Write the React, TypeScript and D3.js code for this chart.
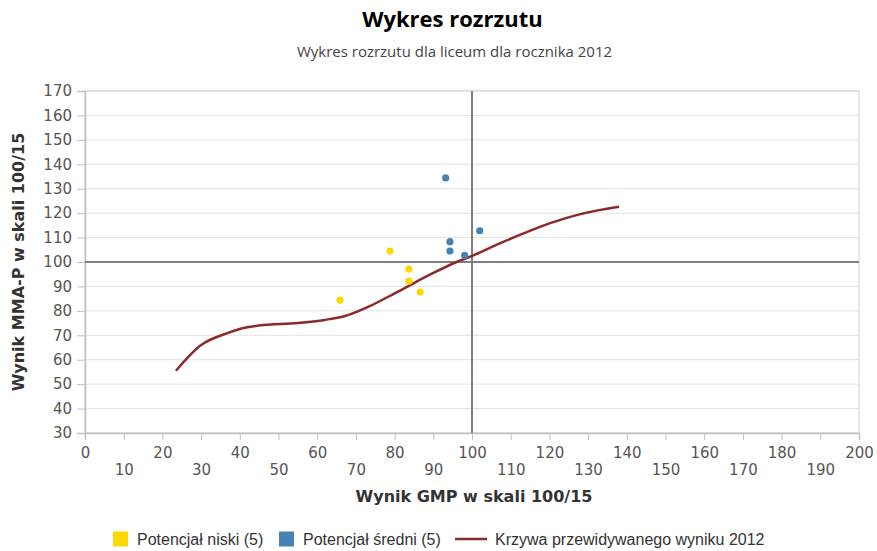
import React, { useEffect, useRef } from 'react';
import * as d3 from 'd3';

// Potencjał niski (yellow)
const lowX = [65.9, 78.8, 83.7, 83.7, 86.6];
const lowY = [84.4, 104.5, 97.1, 92.2, 87.7];
// Potencjał średni (blue)
const midX = [93.2, 94.3, 94.3, 98.1, 102.0];
const midY = [134.4, 108.3, 104.5, 102.7, 112.8];
// Krzywa przewidywanego wyniku 2012
const curveX = [23.5, 30, 37, 41, 45, 55, 62, 67, 73, 81, 90, 96, 100, 107, 113, 120, 128, 138];
const curveY = [55.5, 66, 71, 73, 74, 75, 76.3, 77.8, 81.5, 88, 95.5, 100, 102.5, 107.5, 111.5, 115.8, 119.6, 122.6];

const xTicks = d3.range(0, 201, 10);
const yTicks = d3.range(30, 171, 10);

const legendItems = [
  { label: 'Potencjał niski (5)', color: '#ffd700', kind: 'square' },
  { label: 'Potencjał średni (5)', color: '#4682b4', kind: 'square' },
  { label: 'Krzywa przewidywanego wyniku 2012', color: '#8b2a2a', kind: 'line' },
];

const W = 877;
const H = 551;

export default function App() {
  const ref = useRef<SVGSVGElement | null>(null);

  useEffect(() => {
    document.body.style.margin = '0';
    const svg = d3.select(ref.current);
    svg.selectAll('*').remove();

    const margin = { left: 85, right: 18, top: 91, bottom: 118 };
    const x = d3.scaleLinear().domain([0, 200]).range([margin.left, W - margin.right]);
    const y = d3.scaleLinear().domain([30, 170]).range([H - margin.bottom, margin.top]);

    const axisFont = 'DejaVu Sans, Verdana, sans-serif';

    // title
    svg.append('text')
      .attr('x', W / 2 + 14).attr('y', 27)
      .attr('text-anchor', 'middle')
      .attr('font-family', 'Open Sans, sans-serif')
      .attr('font-weight', 700)
      .attr('font-size', 22)
      .attr('fill', '#000')
      .text('Wykres rozrzutu');
    svg.append('text')
      .attr('x', W / 2 + 16).attr('y', 57)
      .attr('text-anchor', 'middle')
      .attr('font-family', 'Open Sans, sans-serif')
      .attr('font-size', 15)
      .attr('fill', '#444')
      .text('Wykres rozrzutu dla liceum dla rocznika 2012');

    // gridlines
    svg.append('g').selectAll('line')
      .data(yTicks)
      .join('line')
      .attr('x1', x(0)).attr('x2', x(200))
      .attr('y1', d => y(d)).attr('y2', d => y(d))
      .attr('stroke', '#e3e3e3').attr('stroke-width', 1);

    // plot border
    svg.append('rect')
      .attr('x', x(0)).attr('y', y(170))
      .attr('width', x(200) - x(0)).attr('height', y(30) - y(170))
      .attr('fill', 'none').attr('stroke', '#d0d0d0');

    // axes
    const yAxis = d3.axisLeft(y).tickValues(yTicks).tickSize(8).tickPadding(5);
    const gy = svg.append('g').attr('transform', `translate(${x(0)},0)`).call(yAxis);
    gy.select('.domain').attr('stroke', '#c0c0c0').attr('stroke-width', 1.5);
    gy.selectAll('.tick line').attr('stroke', '#c0c0c0');
    gy.selectAll('.tick text')
      .attr('font-family', axisFont).attr('font-size', 15).attr('fill', '#555');

    const xAxis = d3.axisBottom(x).tickValues(xTicks).tickSize(7).tickFormat(d3.format('d'));
    const gx = svg.append('g').attr('transform', `translate(0,${y(30)})`).call(xAxis);
    gx.select('.domain').attr('stroke', '#c0c0c0').attr('stroke-width', 1.5);
    gx.selectAll('.tick line').attr('stroke', '#c0c0c0');
    gx.selectAll<SVGTextElement, number>('.tick text')
      .attr('font-family', axisFont).attr('font-size', 15).attr('fill', '#555')
      .attr('dy', null)
      .attr('y', d => ((d / 10) % 2 === 0 ? 25 : 42));

    // crosshair at 100/100
    svg.append('line')
      .attr('x1', x(0)).attr('x2', x(200))
      .attr('y1', y(100)).attr('y2', y(100))
      .attr('stroke', '#7f7f7f').attr('stroke-width', 2);
    svg.append('line')
      .attr('x1', x(100)).attr('x2', x(100))
      .attr('y1', y(170)).attr('y2', y(30))
      .attr('stroke', '#7f7f7f').attr('stroke-width', 2);

    // axis titles
    svg.append('text')
      .attr('x', (x(0) + x(200)) / 2 + 2).attr('y', 502)
      .attr('text-anchor', 'middle')
      .attr('font-family', axisFont).attr('font-weight', 700).attr('font-size', 16)
      .attr('fill', '#333')
      .text('Wynik GMP w skali 100/15');
    svg.append('text')
      .attr('transform', `translate(24,${(y(30) + y(170)) / 2}) rotate(-90)`)
      .attr('text-anchor', 'middle')
      .attr('font-family', axisFont).attr('font-weight', 700).attr('font-size', 16)
      .attr('fill', '#333')
      .text('Wynik MMA-P w skali 100/15');

    // prediction curve
    const line = d3.line<number>()
      .x((_, i) => x(curveX[i]))
      .y(d => y(d))
      .curve(d3.curveMonotoneX);
    svg.append('path')
      .datum(curveY)
      .attr('d', line)
      .attr('fill', 'none')
      .attr('stroke', legendItems[2].color)
      .attr('stroke-width', 2.5)
      .attr('stroke-linejoin', 'round');

    // points
    svg.append('g').selectAll('circle')
      .data(lowY)
      .join('circle')
      .attr('cx', (_, i) => x(lowX[i])).attr('cy', d => y(d))
      .attr('r', 3.6).attr('fill', legendItems[0].color);
    svg.append('g').selectAll('circle')
      .data(midY)
      .join('circle')
      .attr('cx', (_, i) => x(midX[i])).attr('cy', d => y(d))
      .attr('r', 3.6).attr('fill', legendItems[1].color);

    // legend
    const legendX = [113, 279, 455];
    const ly = 539;
    const lg = svg.append('g');
    legendItems.forEach((item, i) => {
      const g = lg.append('g').attr('transform', `translate(${legendX[i]},${ly})`);
      let textX = 24;
      if (item.kind === 'square') {
        g.append('rect').attr('x', 0).attr('y', -7.5).attr('width', 15).attr('height', 15)
          .attr('fill', item.color);
      } else {
        g.append('line').attr('x1', 0).attr('x2', 32).attr('y1', 0).attr('y2', 0)
          .attr('stroke', item.color).attr('stroke-width', 2.5);
        textX = 40;
      }
      g.append('text')
        .attr('x', textX).attr('y', 0).attr('dy', '0.35em')
        .attr('font-family', 'Liberation Sans, Arial, sans-serif')
        .attr('font-size', 16).attr('fill', '#333')
        .text(item.label);
    });
  }, []);

  return (
    <svg
      ref={ref}
      width={W}
      height={H}
      style={{ display: 'block', position: 'absolute', left: 0, top: 0, background: '#fff' }}
    />
  );
}
